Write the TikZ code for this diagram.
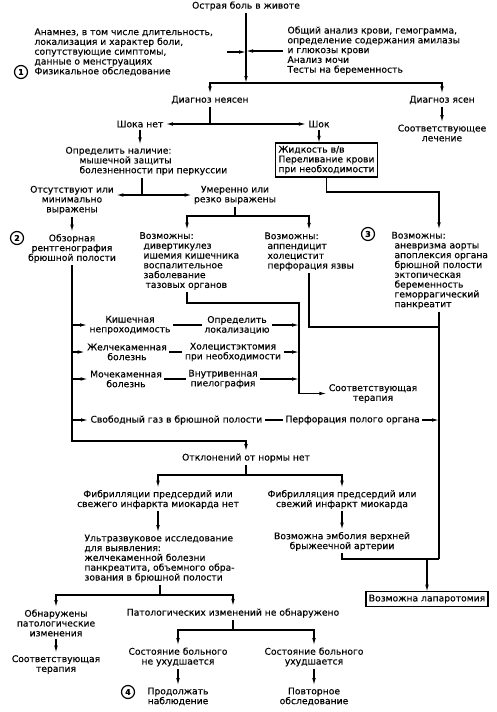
\documentclass[tikz,border=0pt]{standalone}
\usepackage{fontspec}
\setmainfont{DejaVu Sans}[FakeBold=0.3]
\usetikzlibrary{arrows.meta}

\begin{document}
\begin{tikzpicture}[x=1pt,y=-1pt,>={Latex[length=7pt,width=3.6pt]},line width=1.1pt,
  every node/.style={font=\fontsize{9.2}{9.8}\selectfont,inner sep=0pt,outer sep=2.5pt,align=center},
  box/.style={draw,line width=1.4pt,inner xsep=3pt,inner ysep=3pt,outer sep=0pt,align=left},
  num/.style={circle,draw,line width=1.2pt,minimum size=13pt,outer sep=0pt,font=\bfseries\fontsize{8}{8}\selectfont}]
  \useasboundingbox (0,0) rectangle (497,712);

  % 顶部：主诉与检查
  \node (pain) at (246,6) {Острая боль в животе};
  \node[anchor=west,align=left] (hist) at (32,52) {Анамнез, в том числе длительность,\\локализация и характер боли,\\сопутствующие симптомы,\\данные о менструациях\\Физикальное обследование};
  \node[anchor=west,align=left] (labs) at (285,50.5) {Общий анализ крови, гемограмма,\\определение содержания амилазы\\и глюкозы крови\\Анализ мочи\\Тесты на беременность};
  \coordinate (h1) at (227,52); \coordinate (l1) at (283,51); \coordinate (b1) at (246,83);
  \draw[->] (pain) -- (b1);
  \draw[->] (h1) -- (h1 -| pain);
  \draw[->] (l1) -- (l1 -| pain);

  \node (unk) at (210,100) {Диагноз неясен};
  \node (clear) at (442,100) {Диагноз ясен};
  \node (treat) at (442,133) {Соответствующее\\лечение};
  \draw[->] (b1) -| (unk);
  \draw[->] (b1) -| (clear);
  \draw[->] (clear) -- (treat);

  % 休克 / 无休克
  \node (noshock) at (140,124) {Шока нет};
  \node (shock) at (319,124) {Шок};
  \coordinate (b2) at (210,124);
  \draw (unk) -- (b2);
  \draw[->] (b2) -- (noshock);
  \draw[->] (b2) -- (shock);
  \node[box] (fluid) at (326.5,160) {Жидкость в/в\\Переливание крови\\при необходимости};
  \draw[->] (shock) -- (shock |- fluid.north);

  \node[anchor=west,align=left] (check) at (63,161) {Определить наличие:\\\hspace*{14pt}мышечной защиты\\\hspace*{14pt}болезненности при перкуссии};
  \draw[->] (noshock) -- (noshock |- check.north);
  \node (absent) at (72,200) {Отсутствуют или\\минимально\\выражены};
  \node (moder) at (235,195) {Умеренно или\\резко выражены};
  \coordinate (b3) at (142,195);
  \draw (b3 |- check.south) -- (b3);
  \draw[->] (b3) -- (b3 -| absent.east);
  \draw[->] (b3) -- (moder);

  \node[anchor=west,align=left] (possA) at (137,261) {Возможны:\\\hspace*{4pt}дивертикулез\\\hspace*{4pt}ишемия кишечника\\\hspace*{4pt}воспалительное\\\hspace*{4pt}заболевание\\\hspace*{6pt}тазовых органов};
  \node[anchor=west,align=left] (possB) at (262,251.5) {Возможны:\\\hspace*{3pt}аппендицит\\\hspace*{3pt}холецистит\\\hspace*{3pt}перфорация язвы};
  \node[anchor=west,align=left] (poss3) at (389,270.5) {Возможны:\\\hspace*{3pt}аневризма аорты\\\hspace*{3pt}апоплексия органа\\\hspace*{3pt}брюшной полости\\\hspace*{3pt}эктопическая\\\hspace*{3pt}беременность\\\hspace*{3pt}геморрагический\\\hspace*{3pt}панкреатит};
  \coordinate (b4) at (235,216); \coordinate (a1) at (187,216); \coordinate (a2) at (309,216);
  \draw (moder) -- (b4);
  \draw[->] (b4) -- (a1) -- (a1 |- possA.north);
  \draw[->] (b4) -- (a2) -- (a2 |- possB.north);
  \coordinate (r1) at (439,192);
  \draw[->] (fluid) |- (r1) -- (r1 |- poss3.north);

  \node (xray) at (72,248.5) {Обзорная\\рентгенография\\брюшной полости};
  \draw[->] (absent) -- (xray);

  % 腹部平片的结果
  \node (obst) at (130,325) {Кишечная\\непроходимость};
  \node (locate) at (237,325) {Определить\\локализацию};
  \node (gall) at (127,352) {Желчекаменная\\болезнь};
  \node (chole) at (233,352) {Холецистэктомия\\при необходимости};
  \node (kidney) at (126,379) {Мочекаменная\\болезнь};
  \node (pyelo) at (223,379) {Внутривенная\\пиелография};
  \node[anchor=west] (gas) at (88,420) {Свободный газ в брюшной полости};
  \node[anchor=west] (perf) at (283,420) {Перфорация полого органа};
  \node (therapy) at (373,393.5) {Соответствующая\\терапия};
  \coordinate (m1) at (72,441);
  \coordinate (t1) at (299,303); \coordinate (t2) at (299,393.5);
  \coordinate (r2) at (439,327); \coordinate (r3) at (439,559);
  \foreach \a/\b in {obst/locate,gall/chole,kidney/pyelo,gas/perf}{
    \draw[->] (m1 |- \a) -- (\a);
    \draw (\a) -- (\b);
  }
  \foreach \t in {locate,chole,pyelo}
    \draw[->] (\t) -- (\t -| t1);
  \draw[->] (a1 |- possA.south) |- (t1) -- (t2) -- (therapy);
  \draw (a2 |- possB.south) |- (r2);
  \draw (r1 |- poss3.south) -- (r3);
  \draw[->] (perf) -- (perf -| r1);

  \node (normal) at (246,458) {Отклонений от нормы нет};
  \draw[->] (xray) -- (m1) -| (normal);

  % 下部
  \coordinate (n1) at (246,475);
  \node (fibno) at (158,499.5) {Фибрилляции предсердий или\\свежего инфаркта миокарда нет};
  \node (fibyes) at (342,499.5) {Фибрилляция предсердий или\\свежий инфаркт миокарда};
  \draw (normal) -- (n1);
  \draw[->] (n1) -| (fibno);
  \draw[->] (n1) -| (fibyes);
  \node[anchor=west,align=left] (us) at (82,558.5) {Ультразвуковое исследование\\для выявления:\\желчекаменной болезни\\панкреатита, объемного обра-\\зования в брюшной полости};
  \draw[->] (fibno) -- (fibno |- us.north);
  \node (emb) at (342,541.5) {Возможна эмболия верхней\\брыжеечной артерии};
  \draw[->] (fibyes) -- (emb);
  \draw (emb) |- (r3);
  \node[box,align=center] (lap) at (427,599) {Возможна лапаротомия};
  \draw[->] (lap |- r3) -- (lap);

  \coordinate (u1) at (160,595);
  \node (found) at (56,623) {Обнаружены\\патологические\\изменения};
  \node (nofound) at (233,613) {Патологических изменений не обнаружено};
  \draw (u1 |- us.south) -- (u1);
  \draw[->] (u1) -| (found);
  \draw[->] (u1) -| (nofound);
  \node (ther) at (56,664.5) {Соответствующая\\терапия};
  \draw[->] (found) -- (ther);

  \coordinate (p1) at (233,630);
  \node (stable) at (178,657) {Состояние больного\\не ухудшается};
  \node (worse) at (314,657) {Состояние больного\\ухудшается};
  \node (cont) at (178,696.5) {Продолжать\\наблюдение};
  \node (reexam) at (314,696.5) {Повторное\\обследование};
  \draw (nofound) -- (p1);
  \draw[->] (p1) -| (stable);
  \draw[->] (p1) -| (worse);
  \draw[->] (stable) -- (cont);
  \draw[->] (worse) -- (reexam);

  % 编号圆圈
  \foreach \k/\p in {1/{(21,72)},2/{(17,238)},3/{(368,234)},4/{(128,692)}}
    \node[num] (c\k) at \p {\k};
\end{tikzpicture}
\end{document}
